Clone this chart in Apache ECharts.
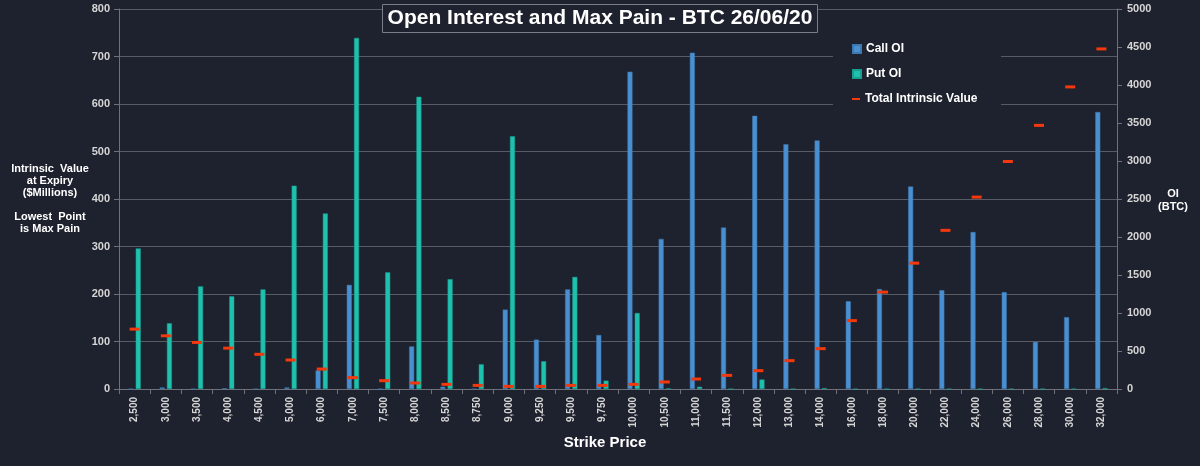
<!DOCTYPE html>
<html>
<head>
<meta charset="utf-8">
<script src="https://cdn.jsdelivr.net/npm/echarts@6/dist/echarts.min.js"></script>
<style>
html,body{margin:0;padding:0;background:#1e222e;}
#c{width:1200px;height:466px;}
</style>
</head>
<body>
<div id="c"></div>
<script>
const strikes = ['2,500','3,000','3,500','4,000','4,500','5,000','6,000','7,000','7,500','8,000','8,500','8,750','9,000','9,250','9,500','9,750','10,000','10,500','11,000','11,500','12,000','13,000','14,000','16,000','18,000','20,000','22,000','24,000','26,000','28,000','30,000','32,000'];
// Open interest in BTC (right axis)
const callOI = [0,20,0,10,0,20,245,1370,0,560,30,0,1045,650,1310,710,4175,1975,4425,2125,3595,3220,3270,1155,1315,2665,1300,2065,1275,620,945,3645];
const putOI  = [1850,865,1350,1220,1310,2675,2310,4620,1535,3845,1445,325,3325,365,1475,110,1000,8,30,0,125,0,12,0,0,0,0,0,0,0,0,12];
// Total intrinsic value at expiry, $ millions (left axis)
const intrinsic = [126,112,98,86,73,61,42,24,17.5,12.6,9.7,7.6,5.5,5.5,7.6,7.6,9.7,14.8,21,28.7,38.6,59.7,85,144,204,265,334,404,479,555,636,716];
const leftTicks = {min:0, max:800, interval:100};
const rightTicks = {min:0, max:5000, interval:500};

const BG = '#1e222e';
const TXT = '#d6d6d6';
const GRID = '#585b63';
const AX = '#6e717a';
const FONT = '"Liberation Sans", Arial, sans-serif';

const chart = echarts.init(document.getElementById('c'), null, {renderer:'canvas'});
chart.setOption({
  backgroundColor: BG,
  animation: false,
  textStyle: {fontFamily: FONT},
  title: {
    text: 'Open Interest and Max Pain - BTC 26/06/20',
    left: 'center', top: 4,
    padding: [3, 5, 3, 5],
    backgroundColor: BG,
    borderColor: '#7a7d86', borderWidth: 1,
    textStyle: {color: '#ffffff', fontSize: 21, fontWeight: 'bold', fontFamily: FONT, lineHeight: 23}
  },
  grid: {left: 119, right: 83, top: 9, bottom: 77},
  legend: [{
    data: [{name:'Call OI', icon:'rect'}, {name:'Put OI', icon:'rect'}],
    orient: 'vertical', left: 847, top: 37,
    itemWidth: 8, itemHeight: 8, itemGap: 11,
    textStyle: {color: '#ffffff', fontSize: 12, fontWeight: 'bold', lineHeight: 14, fontFamily: FONT},
    z: 5
  }, {
    data: [{name:'Total Intrinsic Value', icon:'rect'}],
    orient: 'vertical', left: 847, top: 87,
    itemWidth: 8, itemHeight: 2,
    textStyle: {color: '#ffffff', fontSize: 12, fontWeight: 'bold', lineHeight: 14, fontFamily: FONT},
    z: 5
  }],
  xAxis: {
    type: 'category', data: strikes,
    axisLine: {lineStyle: {color: AX}},
    axisTick: {show: true, length: 5, lineStyle: {color: AX}},
    axisLabel: {rotate: 90, color: TXT, fontSize: 10, fontWeight: 'bold', margin: 8, fontFamily: FONT},
    splitLine: {show: false}
  },
  yAxis: [{
    type: 'value', position: 'left',
    min: leftTicks.min, max: leftTicks.max, interval: leftTicks.interval,
    axisLine: {show: true, lineStyle: {color: AX}},
    axisTick: {show: true, length: 5, lineStyle: {color: AX}},
    axisLabel: {color: TXT, fontSize: 11, fontWeight: 'bold', margin: 9, fontFamily: FONT,
      formatter: v => String(v)},
    splitLine: {show: true, lineStyle: {color: GRID, width: 1}}
  }, {
    type: 'value', position: 'right',
    min: rightTicks.min, max: rightTicks.max, interval: rightTicks.interval,
    axisLine: {show: true, lineStyle: {color: AX}},
    axisTick: {show: true, length: 5, lineStyle: {color: AX}},
    axisLabel: {color: TXT, fontSize: 11, fontWeight: 'bold', margin: 10, fontFamily: FONT,
      formatter: v => String(v)},
    splitLine: {show: false}
  }],
  series: [{
    name: 'Call OI', type: 'bar', yAxisIndex: 1, data: callOI,
    barWidth: 5, barGap: '45%',
    itemStyle: {color: '#4a8fd0', borderColor: '#3d78b0', borderWidth: 0.5}
  }, {
    name: 'Put OI', type: 'bar', yAxisIndex: 1, data: putOI,
    barWidth: 5,
    itemStyle: {color: '#1fc0ad', borderColor: '#17a090', borderWidth: 0.5}
  }, {
    name: 'Total Intrinsic Value', type: 'scatter', yAxisIndex: 0, data: intrinsic,
    symbol: 'rect', symbolSize: [10, 3], z: 6,
    itemStyle: {color: '#f2380c', opacity: 1}
  }],
  graphic: [{
    type: 'rect', left: 833, top: 30, z: 1,
    shape: {width: 168, height: 82},
    style: {fill: BG}
  }, {
    type: 'text', z: 5,
    style: {
      text: 'Intrinsic  Value\nat Expiry\n($Millions)\n\nLowest  Point\nis Max Pain',
      x: 50, y: 163, textAlign: 'center',
      fill: '#ffffff', font: 'bold 11px ' + FONT, lineHeight: 12
    }
  }, {
    type: 'text', z: 5,
    style: {
      text: 'OI\n(BTC)', x: 1173, y: 187, textAlign: 'center',
      fill: '#ffffff', font: 'bold 11px ' + FONT, lineHeight: 13
    }
  }, {
    type: 'text', z: 5,
    style: {
      text: 'Strike Price', x: 605, y: 435, textAlign: 'center',
      fill: '#ffffff', font: 'bold 15px ' + FONT
    }
  }]
});
</script>
</body>
</html>
